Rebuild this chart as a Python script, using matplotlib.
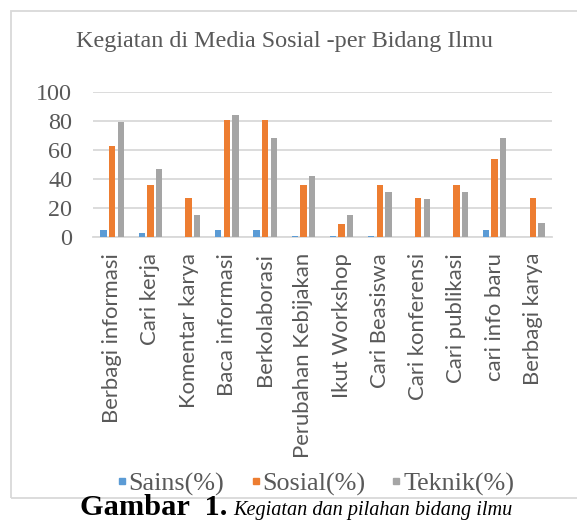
import matplotlib
matplotlib.use("Agg")
import matplotlib.pyplot as plt
import numpy as np
from matplotlib.lines import Line2D
from matplotlib.patches import Rectangle

categories = ["Berbagi informasi", "Cari kerja", "Komentar karya", "Baca informasi",
              "Berkolaborasi", "Perubahan Kebijakan", "Ikut Workshop", "Cari Beasiswa",
              "Cari konferensi", "Cari publikasi", "cari info baru", "Berbagi karya"]
sains = [5, 3, 0, 5, 5, 1, 1, 1, 0, 0, 5, 0]
sosial = [63, 36, 27, 81, 81, 36, 9, 36, 27, 36, 54, 27]
teknik = [79, 47, 15, 84, 68, 42, 15, 31, 26, 31, 68, 10]
yticks = [0, 20, 40, 60, 80, 100]
series_names = ["Sains(%)", "Sosial(%)", "Teknik(%)"]
colors = ["#5B9BD5", "#ED7D31", "#A5A5A5"]
title = "Kegiatan di Media Sosial -per Bidang Ilmu"
cap_bold = "Gambar  1."
cap_italic = "Kegiatan dan pilahan bidang ilmu"

W, H = 577, 522
TXT = "#595959"
fig = plt.figure(figsize=(W / 100, H / 100), dpi=100)
ax = fig.add_axes([93 / W, 1 - 237 / H, (552 - 93) / W, (237 - 92) / H])

x = np.arange(len(categories))
bw = 0.165
off = 0.227
for i, (vals, c) in enumerate(zip([sains, sosial, teknik], colors)):
    ax.bar(x + (i - 1) * off, vals, width=bw, color=c, zorder=3)

ax.set_xlim(-0.5, len(categories) - 0.5)
ax.set_ylim(0, 100)
ax.set_yticks(yticks)
ax.set_yticklabels([str(v) for v in yticks], fontfamily="Liberation Serif",
                   fontsize=17, color=TXT)
ax.set_xticks(x)
ax.set_xticklabels(categories, rotation=90, fontfamily="Lato", fontsize=16,
                   color=TXT, va="top")
ax.tick_params(axis="both", length=0)
ax.tick_params(axis="y", pad=15)
ax.tick_params(axis="x", pad=11.5)
ax.grid(axis="y", color="#D9D9D9", linewidth=1.3, zorder=0)
for s in ["top", "right", "left"]:
    ax.spines[s].set_visible(False)
ax.spines["bottom"].set_color("#D9D9D9")
ax.spines["bottom"].set_linewidth(1.3)

t_title = fig.text(285 / W, 1 - 42 / H, title, ha="center", va="center",
                   fontfamily="Liberation Serif", fontsize=17, color=TXT)

handles = [Line2D([], [], marker="s", linestyle="none", markersize=4.6,
                  markerfacecolor=c, markeredgecolor=c) for c in colors]
leg = fig.legend(handles, series_names, loc="center", bbox_to_anchor=(316 / W, 1 - 484 / H),
                 ncol=3, frameon=False, handlelength=0.3, handletextpad=0.1,
                 columnspacing=1.05, borderpad=0, borderaxespad=0,
                 prop={"family": "Liberation Serif", "size": 18.8})
for t in leg.get_texts():
    t.set_color(TXT)

fig.patches.append(Rectangle((11.5 / W, 1 - 498 / H), 1.0, (498 - 10.5) / H,
                             transform=fig.transFigure, fill=False,
                             edgecolor="#D9D9D9", linewidth=1.3))

t_b = fig.text(227 / W, 1 - 515 / H, cap_bold, ha="right", va="baseline",
               fontfamily="Liberation Serif", fontweight="bold", fontsize=16, color="black")
t_i = fig.text(233 / W, 1 - 515 / H, cap_italic, ha="left", va="baseline",
               fontfamily="Liberation Serif", fontstyle="italic", fontsize=14.5,
               color="black")

# fit text sizes to the measured extents in the reference
r = fig.canvas.get_renderer()
def fit_w(t, target):
    for _ in range(2):
        w = t.get_window_extent(r).width
        t.set_fontsize(t.get_fontsize() * target / w)

fit_w(t_title, 416)
fit_w(t_b, 147)
fit_w(t_i, 280)

for _ in range(2):
    lab = ax.get_xticklabels()[6]
    h = lab.get_window_extent(r).height
    fs = lab.get_fontsize() * 144 / h
    for l in ax.get_xticklabels():
        l.set_fontsize(fs)
    lab = ax.get_yticklabels()[-1]
    w = lab.get_window_extent(r).width
    fs = lab.get_fontsize() * 36 / w
    for l in ax.get_yticklabels():
        l.set_fontsize(fs)
    fig.canvas.draw()

fig.savefig("out.png", dpi=100)
